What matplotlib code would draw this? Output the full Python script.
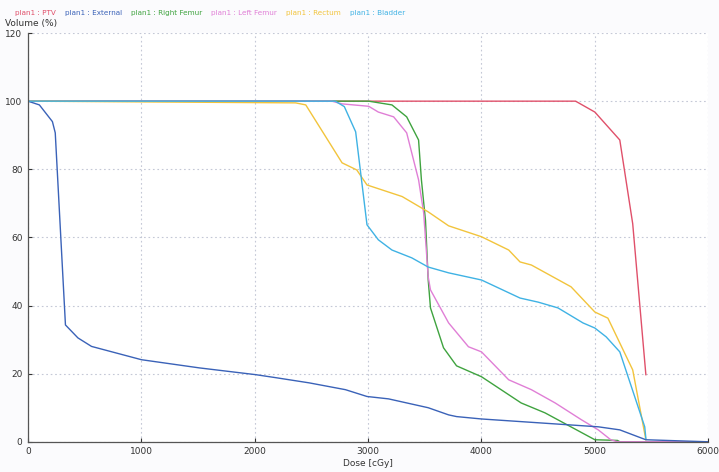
import matplotlib.pyplot as plt

# =========== DATA ==============#
ptv_dose = [0, 4830, 5000, 5220, 5334, 5450]
ptv_vol = [100, 100, 96.8, 88.6, 64, 19.7]

ext_dose = [0, 100, 215, 240, 330, 440, 560, 1000, 1510, 2010, 2190, 2480, 2800,
            2990, 3180, 3530, 3710, 3780, 4000, 5030, 5220, 5450, 6000]
ext_vol = [100, 98.9, 94, 90.7, 34.3, 30.5, 28, 24.1, 21.7, 19.7, 18.8, 17.3, 15.3,
           13.3, 12.6, 10, 7.9, 7.4, 6.7, 4.4, 3.5, 0.6, 0]

rfem_dose = [0, 3005, 3210, 3340, 3445, 3470, 3506, 3530, 3550, 3665, 3780, 4000,
             4350, 4560, 5000, 5200, 5220, 6000]
rfem_vol = [100, 100, 98.9, 95.4, 88.6, 76.9, 65, 47.5, 39.3, 27.6, 22.3, 19.1,
            11.4, 8.5, 0.6, 0.4, 0, 0]

lfem_dose = [0, 2680, 2770, 3005, 3090, 3225, 3340, 3445, 3490, 3530, 3550, 3710,
             3885, 4000, 4240, 4440, 4650, 4880, 5030, 5140, 5200, 6000]
lfem_vol = [100, 100, 99.2, 98.5, 96.8, 95.4, 90.7, 76.9, 67.2, 48.4, 44.6, 34.9,
            27.9, 26.4, 18.2, 15.3, 11.4, 6.5, 3.5, 0.6, 0, 0]

rect_dose = [0, 2360, 2450, 2770, 2900, 2990, 3300, 3530, 3710, 4000, 4240, 4340,
             4440, 4790, 5000, 5115, 5334, 5450]
rect_vol = [100, 99.5, 98.9, 81.9, 79.8, 75.4, 72, 67.5, 63.4, 60.2, 56.3, 52.8,
            51.9, 45.5, 38.1, 36.3, 21.1, 0.6]

blad_dose = [0, 2710, 2790, 2890, 2990, 3090, 3210, 3385, 3530, 3710, 4000, 4340,
             4500, 4675, 4895, 5000, 5100, 5220, 5440, 5450]
blad_vol = [100, 100, 98.4, 91, 63.7, 59.3, 56.3, 54, 51.3, 49.6, 47.5, 42.2,
            41, 39.3, 34.9, 33.4, 30.8, 26.4, 4.4, 1]

names = ['plan1 : PTV', 'plan1 : External', 'plan1 : Right Femur',
         'plan1 : Left Femur', 'plan1 : Rectum', 'plan1 : Bladder']
colors = ['#e0506a', '#3a62b8', '#3fa33f', '#e07fd6', '#f2c43c', '#3fb2e4']

# =========== SETUP ==============#
fig = plt.figure(figsize=(7.19, 4.72), dpi=100)
fig.patch.set_facecolor('#fbfbfd')
ax = fig.add_axes([0.039, 0.064, 0.946, 0.866])
ax.set_facecolor('white')

series = [(ptv_dose, ptv_vol), (ext_dose, ext_vol), (rfem_dose, rfem_vol),
          (lfem_dose, lfem_vol), (rect_dose, rect_vol), (blad_dose, blad_vol)]
# external drawn under the bladder curve, like the original
order = [0, 2, 3, 4, 1, 5]
for i in order:
    d, v = series[i]
    ax.plot(d, v, color=colors[i], lw=1.0)

ax.set_xlim(0, 6000)
ax.set_ylim(0, 120)
ax.set_xticks(range(0, 6001, 1000))
ax.set_yticks(range(0, 121, 20))
ax.tick_params(labelsize=6.5, colors='#333333', length=3, direction='in', pad=4)
ax.grid(True, color='#c4c8d6', ls=(0, (1.5, 2.5)), lw=0.8)
for s in ['top', 'right']:
    ax.spines[s].set_visible(False)
for s in ['left', 'bottom']:
    ax.spines[s].set_color('#555555')
    ax.spines[s].set_linewidth(0.9)

ax.set_xlabel('Dose [cGy]', fontsize=6.5, color='#333333', labelpad=2)
fig.text(0.007, 0.945, 'Volume (%)', fontsize=6.5, color='#333333')

# legend line across the top, each entry placed after the previous one
fig.canvas.draw()
r = fig.canvas.get_renderer()
x = 15
for n, c in zip(names, colors):
    t = fig.text(x / 719, 0.968, n, fontsize=5.2, color=c)
    x += t.get_window_extent(r).width + 9

fig.savefig('out.png', dpi=100, facecolor=fig.get_facecolor())
